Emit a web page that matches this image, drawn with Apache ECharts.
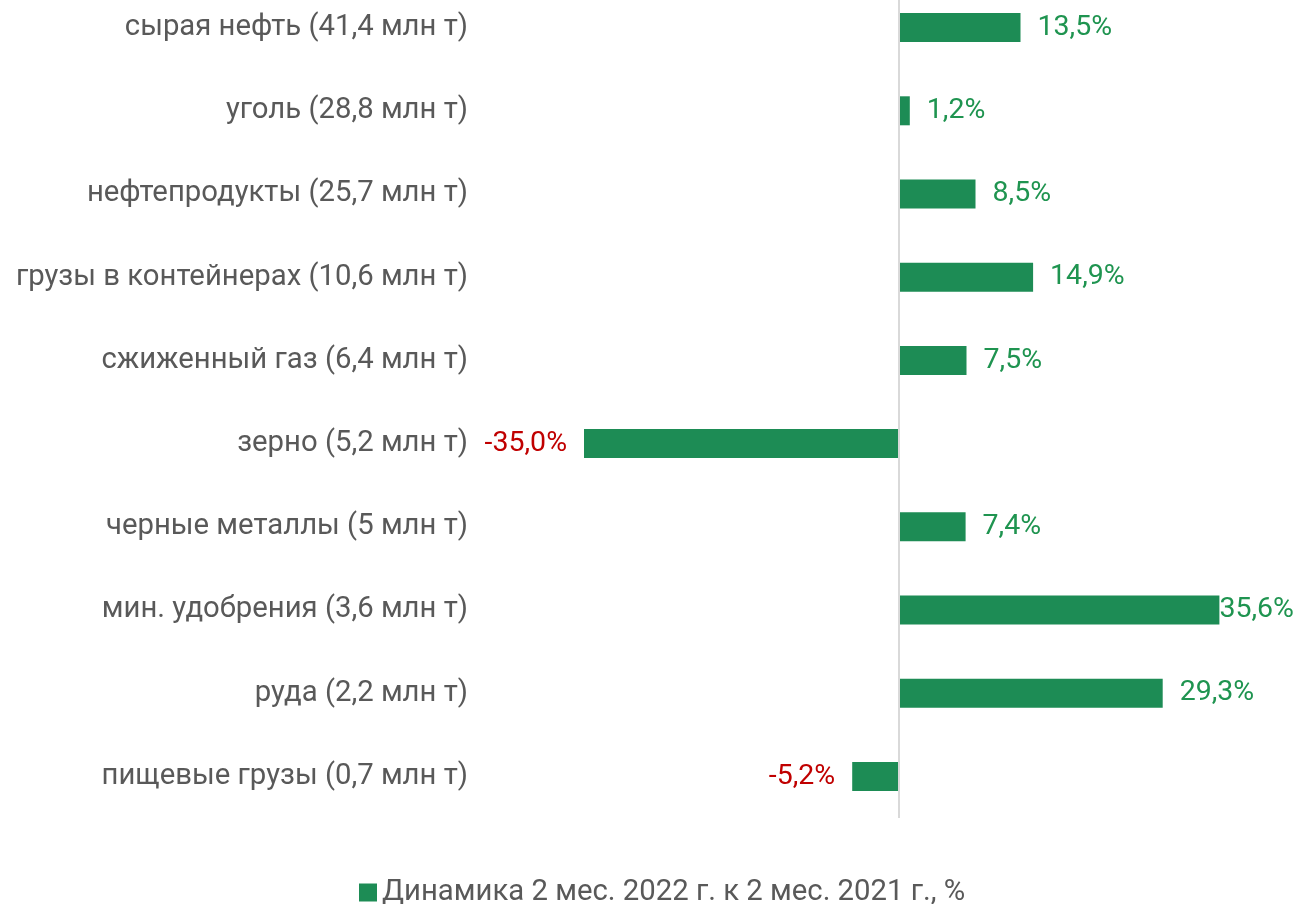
<!DOCTYPE html>
<html><head><meta charset="utf-8">
<script src="https://cdn.jsdelivr.net/npm/echarts@6/dist/echarts.min.js"></script>
<style>html,body{margin:0;padding:0;background:#fff;overflow:hidden}#c{position:relative;top:-14px;width:1301px;height:918px}</style>
</head><body><div id="c"></div>
<script>
const categories = [
  'сырая нефть (41,4 млн т)',
  'уголь (28,8 млн т)',
  'нефтепродукты (25,7 млн т)',
  'грузы в контейнерах (10,6 млн т)',
  'сжиженный газ (6,4 млн т)',
  'зерно (5,2 млн т)',
  'черные металлы (5 млн т)',
  'мин. удобрения (3,6 млн т)',
  'руда (2,2 млн т)',
  'пищевые грузы (0,7 млн т)'
];
const values = [13.5, 1.2, 8.5, 14.9, 7.5, -35.0, 7.4, 35.6, 29.3, -5.2];
const seriesName = 'Динамика 2 мес. 2022 г. к 2 мес. 2021 г., %';

const chart = echarts.init(document.getElementById('c'));
const data = values.map((v, i) => {
  const item = {
    value: v,
    label: {
      position: v < 0 ? 'left' : 'right',
      color: v < 0 ? '#c00000' : '#1f9450'
    }
  };
  if (v > 33) item.label.distance = 0;
  return item;
});
chart.setOption({
  animation: false,
  textStyle: { fontFamily: 'Roboto' },
  grid: { left: 539, width: 720, top: 0, height: 832, containLabel: false },
  xAxis: {
    type: 'value', min: -40, max: 40, interval: 40,
    axisLine: { show: false }, axisTick: { show: false },
    axisLabel: { show: false }, splitLine: { show: false }
  },
  yAxis: {
    type: 'category', data: categories, inverse: true,
    axisLine: { show: false, onZero: false }, axisTick: { show: false },
    axisLabel: { margin: 71, fontSize: 29.3, color: '#595959', fontFamily: 'Roboto' }
  },
  legend: {
    top: 887, left: 354, itemWidth: 18, itemHeight: 18, itemGap: 8,
    icon: 'rect',
    textStyle: { fontSize: 29.3, color: '#595959', fontFamily: 'Roboto' },
    data: [seriesName]
  },
  series: [{
    name: seriesName, type: 'bar', barWidth: 29,
    itemStyle: { color: '#1d8c55' },
    label: {
      show: true, fontSize: 28.5, distance: 17, fontFamily: 'Roboto',
      formatter: p => p.value.toFixed(1).replace('.', ',') + '%'
    },
    data: data,
    markLine: {
      silent: true, symbol: 'none', label: { show: false },
      lineStyle: { color: '#d9d9d9', width: 2, type: 'solid' },
      data: [{ xAxis: 0 }]
    }
  }]
});
</script></body></html>
